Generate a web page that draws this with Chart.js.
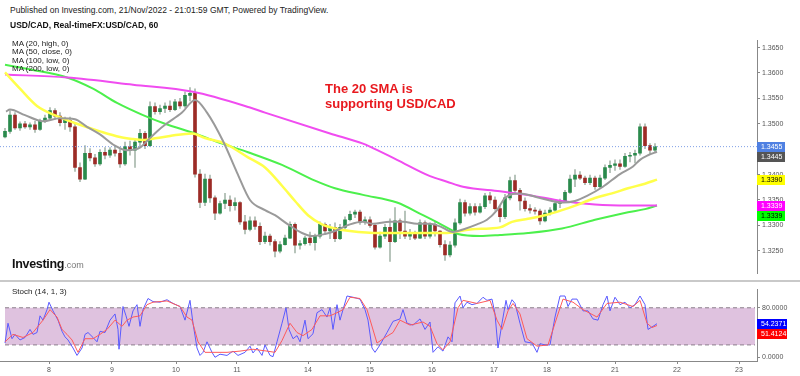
<!DOCTYPE html>
<html>
<head>
<meta charset="utf-8">
<script src="https://cdn.jsdelivr.net/npm/chart.js@4"></script>
<style>
body{margin:0;width:800px;height:376px;overflow:hidden;background:#fff;position:relative;font-family:"Liberation Sans",Arial,sans-serif}
canvas{position:absolute;left:0}
.t{position:absolute;white-space:nowrap;color:#222;z-index:5}
</style>
</head>
<body>
<canvas id="main" width="800" height="246" style="top:34px"></canvas>
<div style="position:absolute;left:0;top:280px;width:800px;height:2px;background:#c9c9c9"></div>
<canvas id="stoch" width="800" height="93" style="top:283px"></canvas>

<div class="t" style="left:10px;top:5px;font-size:8.5px">Published on Investing.com, 21/Nov/2022 - 21:01:59 GMT, Powered by TradingView.</div>
<div class="t" style="left:10px;top:20px;font-size:8.5px;font-weight:bold;color:#111">USD/CAD, Real-timeFX:USD/CAD, 60</div>
<div class="t" style="left:12px;top:40px;font-size:8px;line-height:8.4px">MA (20, high, 0)<br>MA (50, close, 0)<br>MA (100, low, 0)<br>MA (200, low, 0)</div>
<div class="t" style="left:325px;top:82px;font-size:13px;line-height:14.5px;font-weight:bold;color:#e8191e">The 20 SMA is<br>supporting USD/CAD</div>
<div class="t" style="left:12px;top:257px;font-size:12.5px;font-weight:bold;color:#111;letter-spacing:-0.3px">Investing<span style="font-weight:normal;font-size:9px;color:#777;letter-spacing:0">.com</span></div>
<div class="t" style="left:12px;top:287px;font-size:8px">Stoch (14, 1, 3)</div>

<script>
// hourly USD/CAD candles, read at about one bar every 2h
const opens = [1.3474,1.3485,1.3517,1.3492,1.3500,1.3494,1.3498,1.3489,1.3505,1.3511,1.3526,1.3515,1.3502,1.3507,1.3494,1.3414,1.3391,1.3442,1.3433,1.3421,1.3444,1.3438,1.3448,1.3442,1.3421,1.3455,1.3448,1.3464,1.3481,1.3457,1.3534,1.3524,1.3530,1.3535,1.3528,1.3543,1.3535,1.3556,1.3560,1.3401,1.3345,1.3391,1.3354,1.3324,1.3343,1.3350,1.3339,1.3345,1.3307,1.3292,1.3309,1.3298,1.3268,1.3279,1.3268,1.3249,1.3262,1.3275,1.3302,1.3261,1.3264,1.3275,1.3266,1.3279,1.3302,1.3289,1.3296,1.3274,1.3296,1.3311,1.3322,1.3326,1.3307,1.3311,1.3300,1.3257,1.3279,1.3296,1.3268,1.3309,1.3289,1.3279,1.3283,1.3275,1.3305,1.3279,1.3302,1.3289,1.3262,1.3242,1.3261,1.3305,1.3345,1.3324,1.3337,1.3326,1.3337,1.3358,1.3350,1.3333,1.3317,1.3354,1.3388,1.3369,1.3348,1.3333,1.3330,1.3328,1.3309,1.3324,1.3330,1.3343,1.3348,1.3365,1.3391,1.3399,1.3393,1.3384,1.3393,1.3376,1.3393,1.3414,1.3418,1.3421,1.3416,1.3436,1.3438,1.3442,1.3494,1.3457,1.3448];
const highs = [1.3491,1.3526,1.3522,1.3504,1.3505,1.3502,1.3505,1.3509,1.3517,1.3532,1.3530,1.3522,1.3513,1.3513,1.3500,1.3423,1.3457,1.3451,1.3440,1.3449,1.3453,1.3453,1.3455,1.3451,1.3464,1.3466,1.3470,1.3489,1.3485,1.3543,1.3541,1.3537,1.3541,1.3545,1.3548,1.3550,1.3563,1.3571,1.3569,1.3410,1.3401,1.3399,1.3358,1.3348,1.3363,1.3358,1.3354,1.3347,1.3320,1.3317,1.3317,1.3305,1.3287,1.3283,1.3272,1.3268,1.3281,1.3307,1.3305,1.3270,1.3279,1.3287,1.3283,1.3307,1.3305,1.3302,1.3305,1.3302,1.3317,1.3328,1.3330,1.3330,1.3317,1.3317,1.3302,1.3287,1.3302,1.3313,1.3335,1.3313,1.3328,1.3292,1.3289,1.3311,1.3309,1.3305,1.3307,1.3290,1.3270,1.3268,1.3313,1.3352,1.3350,1.3343,1.3343,1.3343,1.3363,1.3365,1.3356,1.3339,1.3361,1.3395,1.3399,1.3373,1.3354,1.3341,1.3335,1.3332,1.3330,1.3335,1.3348,1.3352,1.3369,1.3399,1.3410,1.3406,1.3397,1.3399,1.3397,1.3399,1.3419,1.3427,1.3429,1.3429,1.3442,1.3444,1.3448,1.3500,1.3500,1.3461,1.3461];
const lows = [1.3472,1.3481,1.3489,1.3487,1.3491,1.3489,1.3483,1.3487,1.3502,1.3507,1.3509,1.3496,1.3489,1.3485,1.3406,1.3386,1.3390,1.3427,1.3416,1.3418,1.3431,1.3434,1.3436,1.3414,1.3418,1.3438,1.3414,1.3455,1.3451,1.3455,1.3519,1.3519,1.3522,1.3524,1.3526,1.3530,1.3532,1.3545,1.3395,1.3335,1.3339,1.3345,1.3311,1.3322,1.3333,1.3328,1.3330,1.3302,1.3283,1.3289,1.3292,1.3262,1.3264,1.3261,1.3238,1.3246,1.3261,1.3274,1.3246,1.3253,1.3261,1.3261,1.3251,1.3275,1.3283,1.3274,1.3268,1.3272,1.3292,1.3309,1.3315,1.3302,1.3302,1.3296,1.3253,1.3255,1.3274,1.3229,1.3266,1.3274,1.3274,1.3272,1.3272,1.3274,1.3274,1.3275,1.3279,1.3257,1.3231,1.3238,1.3257,1.3302,1.3318,1.3320,1.3320,1.3324,1.3333,1.3343,1.3330,1.3307,1.3313,1.3350,1.3363,1.3330,1.3328,1.3324,1.3322,1.3302,1.3307,1.3320,1.3326,1.3335,1.3345,1.3363,1.3376,1.3390,1.3380,1.3380,1.3371,1.3373,1.3390,1.3404,1.3408,1.3410,1.3414,1.3425,1.3423,1.3438,1.3451,1.3440,1.3444];
const closes = [1.3485,1.3517,1.3492,1.3500,1.3494,1.3498,1.3489,1.3505,1.3511,1.3526,1.3515,1.3502,1.3507,1.3494,1.3414,1.3391,1.3442,1.3433,1.3421,1.3444,1.3438,1.3448,1.3442,1.3421,1.3455,1.3448,1.3464,1.3481,1.3457,1.3534,1.3524,1.3530,1.3535,1.3528,1.3543,1.3535,1.3556,1.3560,1.3401,1.3345,1.3391,1.3354,1.3324,1.3343,1.3350,1.3339,1.3345,1.3307,1.3292,1.3309,1.3298,1.3268,1.3279,1.3268,1.3249,1.3262,1.3275,1.3302,1.3261,1.3264,1.3275,1.3266,1.3279,1.3302,1.3289,1.3296,1.3274,1.3296,1.3311,1.3322,1.3326,1.3307,1.3311,1.3300,1.3257,1.3279,1.3296,1.3268,1.3309,1.3289,1.3279,1.3283,1.3275,1.3305,1.3279,1.3302,1.3289,1.3262,1.3242,1.3261,1.3305,1.3345,1.3324,1.3337,1.3326,1.3337,1.3358,1.3350,1.3333,1.3317,1.3354,1.3388,1.3369,1.3348,1.3333,1.3330,1.3328,1.3309,1.3324,1.3330,1.3343,1.3348,1.3365,1.3391,1.3399,1.3393,1.3384,1.3393,1.3376,1.3393,1.3414,1.3418,1.3421,1.3416,1.3436,1.3438,1.3442,1.3494,1.3457,1.3448,1.3455];

// moving averages as [bar slot, price]
const ma20 = [[1.2,1.3524],[2,1.3528],[5,1.3517],[8.6,1.3505],[12,1.3511],[15,1.3509],[17.4,1.3494],[20,1.3479],[23,1.3457],[25.4,1.3448],[28,1.3453],[29.4,1.3466],[31.4,1.3485],[33,1.3498],[36.4,1.3522],[39,1.3547],[41.4,1.3522],[44.6,1.3466],[47.4,1.3404],[50,1.3350],[53,1.3330],[55,1.3320],[57.6,1.3302],[60.4,1.3285],[62.4,1.3279],[65,1.3283],[67,1.3289],[70,1.3302],[72.6,1.3307],[74.6,1.3303],[78,1.3307],[80.6,1.3307],[83.4,1.3303],[86,1.3303],[88,1.3298],[90.6,1.3287],[92.6,1.3292],[95.4,1.3302],[97.4,1.3311],[99.4,1.3330],[101,1.3354],[104,1.3363],[108,1.3354],[112.6,1.3345],[115,1.3348],[117.4,1.3358],[120.6,1.3376],[124,1.3401],[126.6,1.3416],[128,1.3429],[129.6,1.3438],[131.4,1.3445]];
const ma50 = [[1,1.3601],[4,1.3569],[7.4,1.3535],[11.4,1.3515],[16,1.3498],[20,1.3485],[24,1.3474],[26.6,1.3470],[28.6,1.3468],[31.4,1.3472],[34,1.3476],[38.4,1.3481],[41,1.3472],[45,1.3461],[49.6,1.3434],[53,1.3414],[56.4,1.3378],[59,1.3348],[61.6,1.3320],[64.4,1.3302],[67,1.3294],[70,1.3289],[76,1.3285],[82.6,1.3285],[89.4,1.3285],[94,1.3292],[98,1.3294],[100,1.3296],[102.4,1.3307],[105.6,1.3313],[109,1.3320],[112.4,1.3330],[115.6,1.3341],[119,1.3354],[122.4,1.3363],[125.6,1.3373],[129,1.3382],[131.4,1.3390]];
const ma100 = [[1,1.3616],[6.6,1.3606],[13.4,1.3591],[18.6,1.3569],[23.4,1.3541],[28.6,1.3517],[33,1.3500],[39,1.3481],[43,1.3466],[49.6,1.3444],[56.4,1.3419],[63,1.3388],[67,1.3373],[72.6,1.3360],[79.4,1.3345],[84.6,1.3320],[88,1.3303],[90.6,1.3289],[91.6,1.3283],[96,1.3279],[100,1.3281],[105.6,1.3285],[112.4,1.3294],[119,1.3311],[125.6,1.3326],[129,1.3332],[131.4,1.3339]];
const ma200 = [[1,1.3597],[13.4,1.3591],[26.6,1.3577],[38.6,1.3563],[50,1.3532],[53,1.3522],[66,1.3481],[72.6,1.3461],[74,1.3455],[79.4,1.3429],[86,1.3397],[89.4,1.3386],[92.6,1.3376],[100,1.3367],[105.6,1.3360],[112.4,1.3348],[119,1.3341],[125.6,1.3339],[131.4,1.3339]];

// stochastic %K / %D as [bar slot, value]
const stochK = [[1,23],[1.6,55],[2.4,30],[3,37],[4,28],[5,32],[6,45],[6.6,37],[7.4,40],[8,67],[8.6,60],[9.4,77],[9.8,89],[10.6,75],[11.6,60],[12.4,42],[13,33],[13.6,28],[14.6,15],[15.4,3],[16.4,15],[17,37],[17.6,40],[18.6,32],[19.4,25],[20,42],[21,40],[22,60],[23,70],[23.6,45],[23.8,13],[24.6,82],[25.2,67],[25.8,50],[26.6,75],[27.4,85],[28,50],[28.6,77],[29.6,95],[30.6,90],[32,89],[33.4,93],[34.6,87],[36,82],[37,60],[38,92],[38.6,55],[39.4,15],[40,3],[40.6,8],[41.4,25],[42.4,8],[43,0],[44,5],[45.4,3],[46.6,10],[47.6,3],[49,8],[50,18],[50.6,7],[51.4,15],[52.4,3],[53,20],[54,3],[54.6,1],[55.4,25],[56.4,55],[57.2,80],[57.8,45],[58.6,30],[59.4,35],[60,25],[61,60],[61.6,30],[62.6,38],[63.4,72],[64.4,77],[65.4,65],[66,80],[66.6,45],[67.4,85],[68,60],[68.6,77],[69.4,99],[70.6,97],[72,94],[73,77],[73.6,60],[74.4,15],[75,8],[76,20],[77.4,40],[78.6,58],[80,62],[80.6,77],[81.4,55],[82.6,52],[84,62],[85,45],[86,57],[86.6,8],[87.6,17],[88.6,10],[89.6,33],[90.4,25],[91,88],[92,99],[92.6,80],[93.4,89],[94.4,85],[95.4,87],[96.6,97],[97.4,92],[98.4,94],[99,70],[99.6,15],[100.4,55],[101.2,92],[101.6,77],[102.4,93],[103,87],[104,55],[105,25],[106.4,23],[107.4,8],[108,22],[109,20],[110,20],[111,65],[112,99],[113,99],[113.6,82],[114.4,94],[115.4,94],[116.6,75],[117.6,75],[118.6,62],[119.6,60],[120.6,85],[121.4,99],[122,75],[123,97],[124,85],[125,89],[126,80],[127,85],[128,99],[129,85],[129.6,45],[130.6,50],[131.4,54.2371]];
const stochD = [[1,25],[2.6,37],[4.6,32],[6.6,40],[8.6,60],[10,77],[11.4,65],[12.4,45],[13.4,37],[14.4,28],[15.6,8],[17,30],[18.6,30],[20,37],[21.4,45],[23,60],[24.4,50],[25.4,60],[26.6,65],[28,67],[29.4,85],[30.6,89],[33.4,91],[36,82],[37.4,65],[38.4,60],[39.6,25],[41,8],[42.6,8],[45.4,8],[48,10],[50.6,13],[53.4,10],[55,8],[56.4,27],[58,55],[59.4,40],[60.6,35],[62.4,45],[64,67],[66,67],[67.4,72],[68.6,77],[70,97],[72,95],[73.4,77],[75.4,23],[77,32],[78.6,40],[80,60],[82,52],[84.6,57],[86,50],[87.4,22],[88.6,12],[90,25],[91.6,80],[92.6,92],[95.4,87],[98,92],[99.4,60],[100.4,45],[101.6,75],[102.6,87],[104,70],[105.4,30],[107.4,18],[109.6,20],[111.4,65],[112.6,94],[114.6,89],[116.6,77],[119.4,65],[121.4,87],[124,89],[126.6,82],[128,92],[129.4,55],[130.4,48],[131.4,51.4124]];

const priceTicks = [1.3250,1.3300,1.3350,1.3400,1.3450,1.3500,1.3550,1.3600,1.3650];
const stochTicks = [0,80];
const stochBand = [20,80];
const dayPos = [9.8,22.4,35.2,47.4,61.6,74,86.4,98.8,109.4,123,135.4,147.8];
const dayLabels = ['8','9','10','11','14','15','16','17','18','21','22','23'];

const FONT = '"Liberation Sans", Arial, sans-serif';
const xMax = 151.4;
const pts = a => a.map(p => ({x:p[0], y:p[1]}));
const slot = i => i + 1;

// value tags on the right price scale
const tagPlugin = {
	id: 'tags',
	afterDraw(chart, args, opts) {
		const c = chart.ctx, s = chart.scales.y, x0 = chart.chartArea.right;
		let last = -99;
		c.save();
		c.font = '7px ' + FONT;
		c.textBaseline = 'middle';
		opts.items.forEach(t => {
			let y = s.getPixelForValue(t.value);
			if (y - 5 < last) y = last + 5;
			last = y + 5;
			c.fillStyle = t.bg;
			c.fillRect(x0, Math.round(y - 5), opts.w, 10);
			c.fillStyle = t.fg;
			c.fillText(t.value.toFixed(4), x0 + 4, Math.round(y) + 0.5);
		});
		c.restore();
	}
};

const wickColor = '#a9b8ad';
const upColor = '#2a8a4c', downColor = '#9c2b26';

new Chart(document.getElementById('main'), {
	type: 'bar',
	data: {
		datasets: [
			{
				label: 'wick',
				data: closes.map((c,i) => ({x:slot(i), y:[lows[i], highs[i]]})),
				backgroundColor: wickColor,
				barThickness: 1,
				grouped: false,
				order: 6,
			},
			{
				label: 'body',
				data: closes.map((c,i) => ({x:slot(i), y:[opens[i], c]})),
				backgroundColor: closes.map((c,i) => c >= opens[i] ? upColor : downColor),
				barThickness: 3,
				minBarLength: 1,
				grouped: false,
				order: 5,
			},
			{
				type: 'line', label: 'last',
				data: [{x:0, y:closes[closes.length-1]}, {x:xMax, y:closes[closes.length-1]}],
				borderColor: '#7f9fe6', borderWidth: 1, borderDash: [1,2],
				pointRadius: 0, order: 4,
			},
			{
				type: 'line', label: 'MA200', data: pts(ma200),
				borderColor: '#f04cf0', borderWidth: 2, pointRadius: 0,
				cubicInterpolationMode: 'monotone', order: 3,
			},
			{
				type: 'line', label: 'MA100', data: pts(ma100),
				borderColor: '#4cf04c', borderWidth: 2, pointRadius: 0,
				cubicInterpolationMode: 'monotone', order: 3,
			},
			{
				type: 'line', label: 'MA50', data: pts(ma50),
				borderColor: '#ffff4a', borderWidth: 2.5, pointRadius: 0,
				cubicInterpolationMode: 'monotone', order: 2,
			},
			{
				type: 'line', label: 'MA20', data: pts(ma20),
				borderColor: '#9a9a9a', borderWidth: 2, pointRadius: 0,
				cubicInterpolationMode: 'monotone', order: 1,
			},
		]
	},
	options: {
		responsive: false,
		animation: false,
		layout: { padding: 0 },
		plugins: {
			legend: { display: false },
			tooltip: { enabled: false },
			tags: {
				w: 28,
				items: [
					{value: closes[closes.length-1], bg:'#4f80e2', fg:'#fff'},
					{value: ma20[ma20.length-1][1], bg:'#555555', fg:'#fff'},
					{value: ma50[ma50.length-1][1], bg:'#ffff00', fg:'#000'},
					{value: ma200[ma200.length-1][1], bg:'#ff00ff', fg:'#fff'},
					{value: ma100[ma100.length-1][1], bg:'#00ff00', fg:'#000'},
				]
			}
		},
		scales: {
			x: { type: 'linear', display: false, min: 0, max: xMax, offset: false },
			y: {
				position: 'right',
				min: 1.32047, max: 1.36645,
				afterBuildTicks: s => { s.ticks = priceTicks.map(v => ({value:v})); },
				afterFit: s => { s.width = 43; },
				ticks: {
					color: '#555', padding: 2,
					font: { size: 7, family: FONT },
					callback: v => Number(v).toFixed(4),
				},
				grid: { display: true, drawOnChartArea: false, drawTicks: true, tickLength: 3, color: '#888' },
				border: { display: true, color: '#888' },
			}
		}
	},
	plugins: [tagPlugin]
});

new Chart(document.getElementById('stoch'), {
	type: 'line',
	data: {
		datasets: [
			{
				label: 'upper', data: [{x:1, y:stochBand[1]}, {x:151, y:stochBand[1]}],
				borderColor: '#8c7f8c', borderWidth: 1, borderDash: [4,3],
				pointRadius: 0, fill: false, order: 5,
			},
			{
				label: 'lower', data: [{x:1, y:stochBand[0]}, {x:151, y:stochBand[0]}],
				borderColor: '#8c7f8c', borderWidth: 1, borderDash: [4,3],
				pointRadius: 0, fill: '-1', backgroundColor: '#dfc2df', order: 5,
			},
			{
				label: '%K', data: pts(stochK),
				borderColor: '#5a5aff', borderWidth: 1, pointRadius: 0, order: 2,
			},
			{
				label: '%D', data: pts(stochD),
				borderColor: '#ff5a5a', borderWidth: 1, pointRadius: 0, order: 1,
			},
		]
	},
	options: {
		responsive: false,
		animation: false,
		layout: { padding: 0 },
		plugins: {
			legend: { display: false },
			tooltip: { enabled: false },
			tags: {
				w: 30,
				items: [
					{value: stochK[stochK.length-1][1], bg:'#0000ff', fg:'#fff'},
					{value: stochD[stochD.length-1][1], bg:'#ff0000', fg:'#fff'},
				]
			}
		},
		scales: {
			x: {
				type: 'linear', min: 0, max: xMax, offset: false,
				afterBuildTicks: s => { s.ticks = dayPos.map(v => ({value:v})); },
				afterFit: s => { s.height = 15; },
				ticks: {
					autoSkip: false, maxRotation: 0, color: '#555', padding: 2,
					font: { size: 7, family: FONT },
					callback: (v, i) => dayLabels[i],
				},
				grid: { display: true, drawOnChartArea: false, drawTicks: true, tickLength: 3, color: '#888' },
				border: { display: true, color: '#888' },
			},
			y: {
				position: 'right',
				min: -6, max: 110,
				afterBuildTicks: s => { s.ticks = stochTicks.map(v => ({value:v})); },
				afterFit: s => { s.width = 43; },
				ticks: {
					color: '#555', padding: 2,
					font: { size: 7, family: FONT },
					callback: v => Number(v).toFixed(4),
				},
				grid: { display: true, drawOnChartArea: false, drawTicks: true, tickLength: 3, color: '#888' },
				border: { display: true, color: '#888' },
			}
		}
	},
	plugins: [tagPlugin]
});
</script>
</body>
</html>
